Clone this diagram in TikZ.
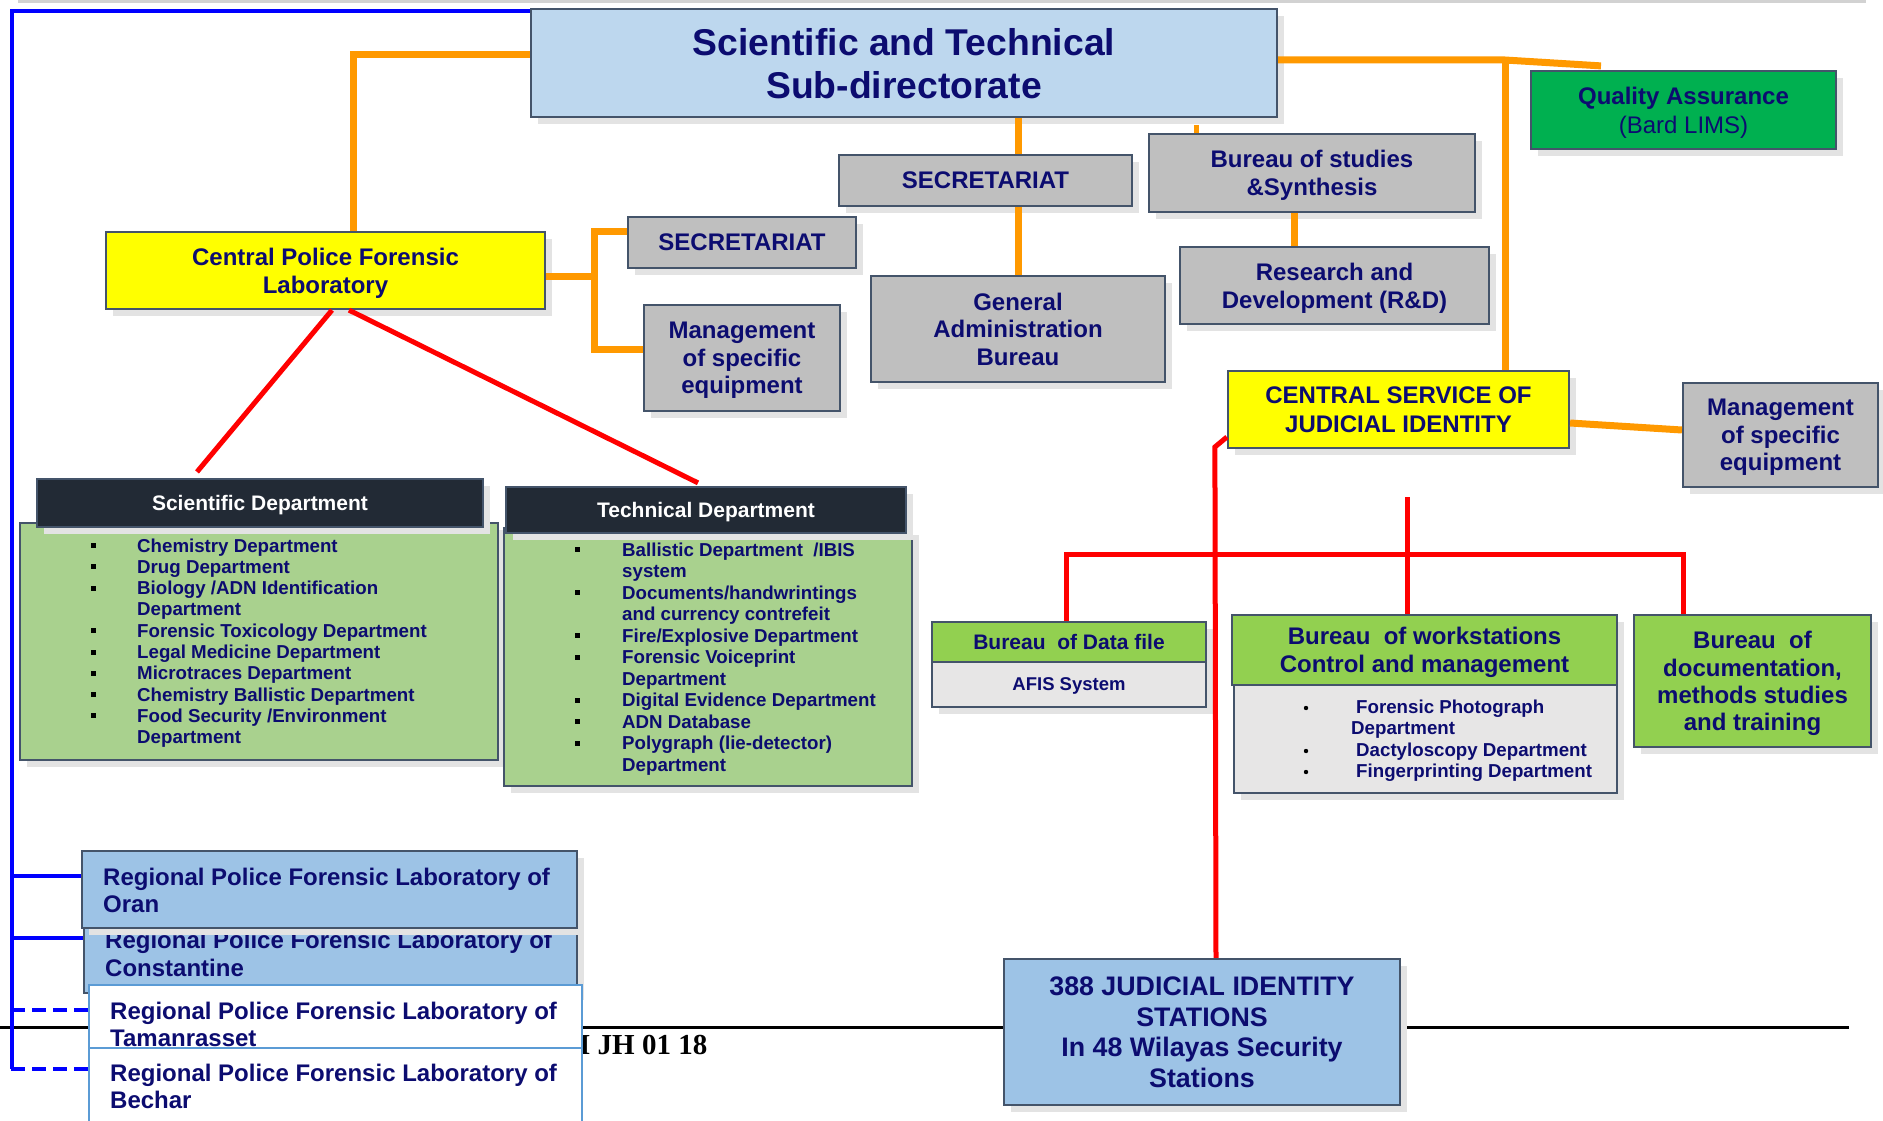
\documentclass[tikz,border=0pt]{standalone}
\usepackage{fontspec}
\setmainfont{Liberation Sans}
\newfontfamily\serifb{Liberation Serif}
\usetikzlibrary{calc}
\definecolor{navyc}{RGB}{12,12,112}
\definecolor{titleb}{HTML}{BDD7EE}
\definecolor{regb}{HTML}{9DC3E6}
\definecolor{grayb}{HTML}{BFBFBF}
\definecolor{yellowb}{HTML}{FFFF00}
\definecolor{qag}{HTML}{00B050}
\definecolor{lgreen}{HTML}{92D050}
\definecolor{listg}{HTML}{A9D18E}
\definecolor{darkh}{HTML}{222A35}
\definecolor{bodyg}{HTML}{E7E6E6}
\definecolor{bordc}{HTML}{44546A}
\definecolor{shadowc}{HTML}{E3E3E3}
\definecolor{orangec}{HTML}{FF9900}
\definecolor{redc}{HTML}{FF0000}
\definecolor{bluec}{HTML}{0000FF}
\definecolor{tamb}{HTML}{5B9BD5}
\tikzset{
  shadowed/.style={preaction={fill=shadowc, transform canvas={xshift=7pt,yshift=-7pt}}},
  box/.style={rectangle, draw=bordc, line width=2.2pt, inner sep=0pt, align=center, text=navyc,
    text depth=0pt, font=\bfseries\fontsize{24}{28}\selectfont, shadowed},
  plainbox/.style={rectangle, draw=tamb, line width=2.5pt, inner sep=0pt, fill=white},
  oline/.style={draw=orangec, line width=7pt},
  rline/.style={draw=redc, line width=5pt},
  bline/.style={draw=bluec, line width=4.5pt},
  listtxt/.style={anchor=base west, inner sep=0pt, text=navyc, font=\bfseries\fontsize{18.7}{21}\selectfont},
  regtxt/.style={anchor=base west, inner sep=0pt, text=navyc, font=\bfseries\fontsize{24}{28}\selectfont},
}
\begin{document}
\begin{tikzpicture}[x=1pt,y=-1pt]
\useasboundingbox (0,0) rectangle (1883,1121);
\fill[white] (0,0) rectangle (1883,1121);
% page shade and footer rule
\coordinate (tl1) at (18,2); \coordinate (tl2) at (1866,2);
\draw[line width=3pt, draw=gray!35] (tl1) -- (tl2);
\coordinate (hl1) at (0,1027); \coordinate (hl2) at (1849,1027);
\draw[line width=3pt] (hl1) -- (hl2);
\node[anchor=base west, inner sep=0pt, font=\serifb\bfseries\fontsize{29}{29}\selectfont] (refcode) at (579,1054) {I JH 01 18};

% top level
\node[box, fill=titleb, minimum width=746pt, minimum height=108pt, font=\bfseries\fontsize{37.3}{43}\selectfont] (title) at (904,63) {Scientific and Technical\\Sub-directorate};
\node[box, fill=yellowb, minimum width=439pt, minimum height=77pt] (labC) at (325.5,270.5) {Central Police Forensic\\Laboratory};
\node[box, fill=grayb, minimum width=228pt, minimum height=51pt] (secL) at (742,242.5) {SECRETARIAT};
\node[box, fill=grayb, minimum width=196pt, minimum height=106pt, font=\bfseries\fontsize{24}{27.5}\selectfont] (mgmtL) at (742,358) {Management\\of specific\\equipment};
\node[box, fill=grayb, minimum width=293pt, minimum height=51pt] (secM) at (985.5,180.5) {SECRETARIAT};
\node[box, fill=grayb, minimum width=294pt, minimum height=106pt, font=\bfseries\fontsize{24}{27.5}\selectfont] (genA) at (1018,329) {General\\Administration\\Bureau};
\node[box, fill=grayb, minimum width=326pt, minimum height=78pt] (bstud) at (1312,173) {Bureau of studies\\\&Synthesis};
\node[box, fill=grayb, minimum width=309pt, minimum height=77pt] (rd) at (1334.5,285.5) {Research and\\Development (R\&D)};
\node[box, fill=qag, minimum width=305pt, minimum height=78pt, font=\bfseries\fontsize{24}{29}\selectfont] (qa) at (1683.5,110) {Quality Assurance\\{\mdseries (Bard LIMS)}};
\node[box, fill=yellowb, minimum width=341pt, minimum height=77pt, font=\bfseries\fontsize{24}{29}\selectfont] (csji) at (1398.5,409.5) {CENTRAL SERVICE OF\\JUDICIAL IDENTITY};
\node[box, fill=grayb, minimum width=195pt, minimum height=104pt, font=\bfseries\fontsize{24}{27.5}\selectfont] (mgmtR) at (1780.5,435) {Management\\of specific\\equipment};

% scientific department
\node[box, fill=listg, minimum width=478pt, minimum height=237pt] (sciB) at (259,641.5) {};
\node[box, fill=darkh, text=white, font=\bfseries\fontsize{21}{25}\selectfont, minimum width=446pt, minimum height=48pt] (sciH) at (260,503) {Scientific Department};
\foreach \b/\t [count=\i] in {1/{Chemistry Department},1/{Drug Department},1/{Biology /ADN Identification},0/{Department},1/{Forensic Toxicology Department},1/{Legal Medicine Department},1/{Microtraces Department},1/{Chemistry Ballistic Department},1/{Food Security /Environment},0/{Department}}{
  \pgfmathsetmacro\yy{552+21.3*(\i-1)}
  \node[listtxt] (sci\i) at (137,\yy) {\t};
  \ifnum\b=1 \fill[black] (91,{\yy-4}) rectangle ++(5,-5); \fi
}

% technical department
\node[box, fill=listg, minimum width=408pt, minimum height=258pt] (tecB) at (708,657) {};
\node[box, fill=darkh, text=white, font=\bfseries\fontsize{21}{25}\selectfont, minimum width=400pt, minimum height=46pt] (tecH) at (706,510) {Technical Department};
\foreach \b/\t [count=\i] in {1/{Ballistic Department\ \ /IBIS},0/{system},1/{Documents/handwrintings},0/{and currency contrefeit},1/{Fire/Explosive Department},1/{Forensic Voiceprint},0/{Department},1/{Digital Evidence Department},1/{ADN Database},1/{Polygraph (lie-detector)},0/{Department}}{
  \pgfmathsetmacro\yy{556+21.5*(\i-1)}
  \node[listtxt] (tec\i) at (622,\yy) {\t};
  \ifnum\b=1 \fill[black] (575,{\yy-4}) rectangle ++(5,-5); \fi
}

% judicial identity bureaus
\node[box, fill=lgreen, minimum width=274pt, minimum height=40pt, font=\bfseries\fontsize{21}{25}\selectfont] (dfH) at (1069,642) {Bureau\ \ of Data file};
\node[box, fill=bodyg, minimum width=274pt, minimum height=45pt, font=\bfseries\fontsize{18.5}{22}\selectfont] (dfB) at (1069,684.5) {AFIS System};
\node[box, fill=lgreen, minimum width=385pt, minimum height=70pt] (wsH) at (1424.5,650) {Bureau\ \ of workstations\\Control and management};
\node[box, fill=bodyg, minimum width=383pt, minimum height=108pt] (wsB) at (1425.5,739) {};
\node[listtxt] (ws1) at (1356,713) {Forensic Photograph};
\node[listtxt] (ws2) at (1351,734) {Department};
\node[listtxt] (ws3) at (1356,756) {Dactyloscopy Department};
\node[listtxt] (ws4) at (1356,777) {Fingerprinting Department};
\fill[black] (1306,708) circle (2.2pt) (1306,751) circle (2.2pt) (1306,772) circle (2.2pt);
\node[box, fill=lgreen, minimum width=237pt, minimum height=132pt, font=\bfseries\fontsize{24}{27.3}\selectfont] (docB) at (1752.5,681) {Bureau\ \ of\\documentation,\\methods studies\\and training};
\node[box, fill=regb, minimum width=396pt, minimum height=146pt, font=\bfseries\fontsize{26.8}{30.7}\selectfont] (stations) at (1202,1032) {388 JUDICIAL IDENTITY\\STATIONS\\In 48 Wilayas Security\\Stations};

% regional laboratories
\node[box, fill=regb, minimum width=493pt, minimum height=93pt] (const) at (330.5,946.5) {};
\node[regtxt] (constT1) at (105,948) {Regional Police Forensic Laboratory of};
\node[regtxt] (constT2) at (105,976) {Constantine};
\node[box, fill=regb, minimum width=495pt, minimum height=77pt] (oran) at (329.5,889.5) {};
\node[regtxt] (oranT1) at (103,885) {Regional Police Forensic Laboratory of};
\node[regtxt] (oranT2) at (103,912) {Oran};
\node[plainbox, minimum width=493pt, minimum height=63pt] (taman) at (335.5,1016.5) {};
\node[regtxt] (tamT1) at (110,1019) {Regional Police Forensic Laboratory of};
\node[regtxt] (tamT2) at (110,1046) {Tamanrasset};
\node[plainbox, minimum width=493pt, minimum height=87pt] (bechar) at (335.5,1091.5) {};
\node[regtxt] (becT1) at (110,1081) {Regional Police Forensic Laboratory of};
\node[regtxt] (becT2) at (110,1108) {Bechar};

% orange connectors
\draw[oline] ([yshift=8pt]title.west) -| ([xshift=27.5pt]labC.north);
\draw[oline] ([yshift=-5.5pt]labC.east) -- ++(51,0);
\draw[oline] ([yshift=11.5pt]secL.west) -- ++(-32,0) |- ([yshift=9pt]mgmtL.west);
\draw[oline] ([xshift=32.5pt]secM.north) -- ([xshift=32.5pt]secM.north |- title.south);
\draw[oline] (genA.north) -- (genA.north |- secM.south);
\draw[oline, line width=5pt] ([xshift=-116pt]bstud.north) -- ++(0,-8);
\draw[oline] ([xshift=-18pt]bstud.south) -- ([xshift=-18pt]bstud.south |- rd.north);
\coordinate (qaj) at (1505,60);
\draw[oline] ([yshift=3pt]title.east) -- (qaj) -- ([xshift=-82.5pt,yshift=4pt]qa.north);
\draw[oline] (qaj) -- (qaj |- csji.north);
\draw[oline] ([yshift=-13.5pt]csji.east) -- ([yshift=5pt]mgmtR.west);

% red connectors
\draw[rline] ([xshift=6.5pt]labC.south) -- ([xshift=-63pt,yshift=6pt]sciH.north);
\draw[rline] ([xshift=23.5pt]labC.south) -- ([xshift=-8pt,yshift=3pt]tecH.north);
\draw[rline] ([yshift=-27.5pt]csji.west) -- ++(-12,10) -- ([xshift=14pt]stations.north);
\coordinate (rtop) at (1407,497);
\draw[rline] (rtop) -- (rtop |- wsH.north);
\draw[rline] ([xshift=-3pt]dfH.north) -- ++(0,-66) -| ([xshift=-69.5pt]docB.north);

% blue connectors
\coordinate (bbot) at (12,1069);
\draw[bline] ([yshift=52pt]title.west) -| (bbot);
\draw[bline] ([yshift=13.5pt]oran.west) -- ++(-70,0);
\draw[bline] ([yshift=8.5pt]const.west) -- ++(-72,0);
\draw[bline, dash pattern=on 14pt off 7pt] ([yshift=6.5pt]taman.west) -- ++(-77,0);
\draw[bline, dash pattern=on 14pt off 7pt] ([yshift=22.5pt]bechar.west) -- ++(-77,0);
\end{tikzpicture}
\end{document}
